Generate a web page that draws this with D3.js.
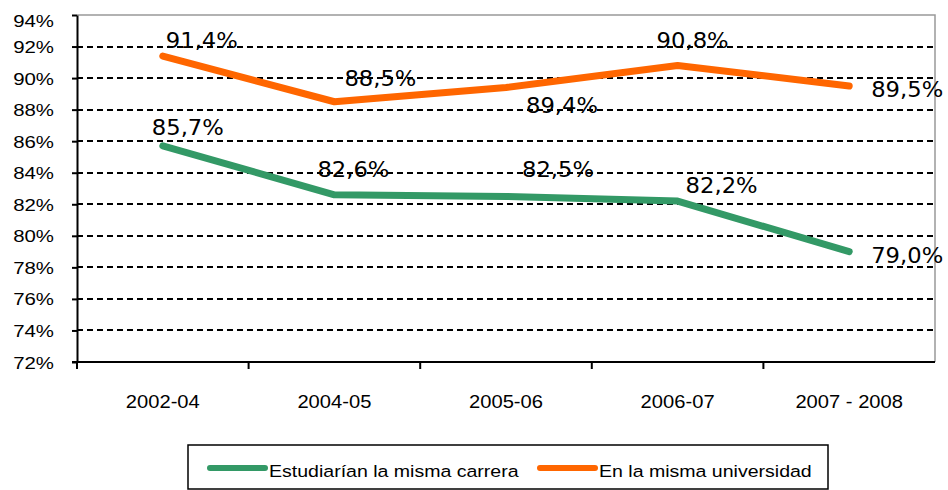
<!DOCTYPE html>
<html>
<head>
<meta charset="utf-8">
<script src="https://cdn.jsdelivr.net/npm/d3@7"></script>
<style>
  body { margin: 0; background: #fff; }
  svg { display: block; }
</style>
</head>
<body>
<svg id="chart" width="948" height="490"></svg>
<script>
const categories = ['2002-04', '2004-05', '2005-06', '2006-07', '2007 - 2008']
const carrera = [85.7, 82.6, 82.5, 82.2, 79.0]
const universidad = [91.4, 88.5, 89.4, 90.8, 89.5]
const yTicks = [72, 74, 76, 78, 80, 82, 84, 86, 88, 90, 92, 94]
const seriesNames = ['Estudiarían la misma carrera', 'En la misma universidad']

const colors = ['#339966', '#FF6600']

// where the value labels sit, relative to their point (px)
const nudge = [
	[[25, -11], [19, -18], [52, -19], [44, -8], [58, 11]],
	[[39, -8], [46, -16], [56, 25], [15, -17], [58, 11]]
]

const svg = d3.select('#chart')
const plotL = 77, plotR = 935, plotT = 15, plotB = 362

const x = d3.scaleBand().domain(categories).range([plotL, plotR]).paddingInner(0).paddingOuter(0)
const y = d3.scaleLinear().domain([72, 94]).range([plotB, plotT])
const cx = d => x(d) + x.bandwidth() / 2

const comma = d3.formatLocale({ decimal: ',', thousands: '.', grouping: [3], currency: ['', '€'] }).format('.1f')

// grid
svg.append('g')
	.selectAll('line')
	.data(yTicks.filter(t => t > 72 && t < 94))
	.enter().append('line')
	.attr('x1', plotL).attr('x2', plotR)
	.attr('y1', d => Math.round(y(d))).attr('y2', d => Math.round(y(d)))
	.attr('stroke', '#000').attr('stroke-width', 2)
	.attr('stroke-dasharray', '6,4')

// frame top / right
svg.append('path')
	.attr('d', `M${plotL},${y(94)}H${plotR}V${plotB}`)
	.attr('fill', 'none').attr('stroke', '#999').attr('stroke-width', 1.5)

// y axis
const yAxis = d3.axisLeft(y).tickValues(yTicks).tickSize(5).tickSizeOuter(0).tickFormat(d => d + '%')
const yG = svg.append('g').attr('transform', `translate(${plotL},0)`).call(yAxis)
yG.select('.domain').attr('stroke', '#000').attr('stroke-width', 2)
yG.selectAll('.tick line').attr('stroke', '#000').attr('stroke-width', 2)
yG.selectAll('.tick text').remove()
yG.selectAll('.tick').append('text')
	.attr('transform', d => `translate(-23,${d == 94 ? 11 : 6}) scale(1.2,1)`)
	.attr('text-anchor', 'end')
	.attr('font-family', 'Arial, "Liberation Sans", sans-serif')
	.attr('font-size', 17)
	.attr('fill', '#000')
	.text(d => d + '%')

// x axis
svg.append('line')
	.attr('x1', plotL - 5).attr('x2', plotR)
	.attr('y1', plotB).attr('y2', plotB)
	.attr('stroke', '#000').attr('stroke-width', 2)
svg.append('g')
	.selectAll('line')
	.data(categories)
	.enter().append('line')
	.attr('x1', d => x(d)).attr('x2', d => x(d))
	.attr('y1', plotB).attr('y2', plotB + 7)
	.attr('stroke', '#000').attr('stroke-width', 2)
svg.append('g')
	.selectAll('text')
	.data(categories)
	.enter().append('text')
	.attr('transform', d => `translate(${cx(d)},${plotB + 46}) scale(1.12,1)`)
	.attr('text-anchor', 'middle')
	.attr('font-family', 'Arial, "Liberation Sans", sans-serif')
	.attr('font-size', 18)
	.attr('fill', '#000')
	.text(d => d)

// lines
const line = d3.line().x((d, i) => cx(categories[i])).y(d => y(d))
const series = [carrera, universidad]

series.forEach((vals, s) => {
	svg.append('path')
		.datum(vals)
		.attr('d', line)
		.attr('fill', 'none')
		.attr('stroke', colors[s])
		.attr('stroke-width', 7)
		.attr('stroke-linecap', 'round')
		.attr('stroke-linejoin', 'round')
})

series.forEach((vals, s) => {
	svg.append('g')
		.selectAll('text')
		.data(vals)
		.enter().append('text')
		.attr('transform', (d, i) => `translate(${cx(categories[i]) + nudge[s][i][0]},${y(d) + nudge[s][i][1]}) scale(1.08,1)`)
		.attr('text-anchor', 'middle')
		.attr('font-family', '"DejaVu Sans", Verdana, sans-serif')
		.attr('font-size', 21)
		.attr('fill', '#000')
		.text(d => comma(d) + '%')
})

// legend
const lg = svg.append('g')
lg.append('rect')
	.attr('x', 188).attr('y', 445).attr('width', 640).attr('height', 44)
	.attr('fill', '#fff').attr('stroke', '#000').attr('stroke-width', 1.5)

const legendX = [210, 540]
seriesNames.forEach((name, s) => {
	lg.append('line')
		.attr('x1', legendX[s]).attr('x2', legendX[s] + 55)
		.attr('y1', 468).attr('y2', 468)
		.attr('stroke', colors[s]).attr('stroke-width', 6)
		.attr('stroke-linecap', 'round')
	lg.append('text')
		.attr('transform', `translate(${legendX[s] + 59},477) scale(1.15,1)`)
		.attr('font-family', 'Arial, "Liberation Sans", sans-serif')
		.attr('font-size', 17)
		.attr('fill', '#000')
		.text(name)
})
</script>
</body>
</html>
